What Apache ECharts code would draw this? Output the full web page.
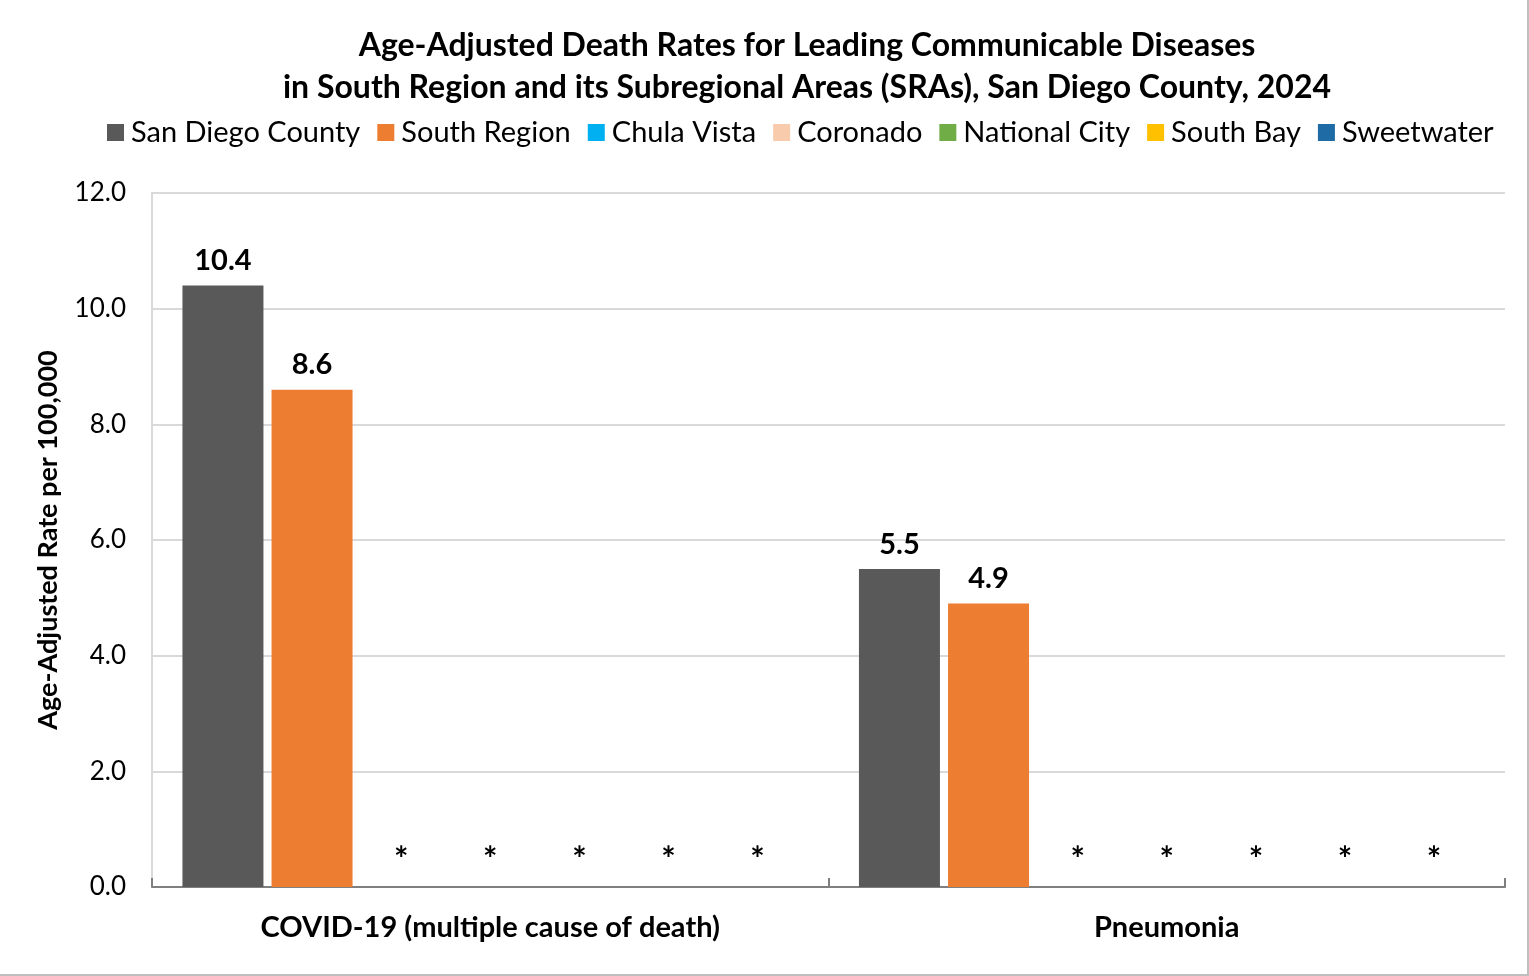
<!DOCTYPE html>
<html>
<head>
<meta charset="utf-8">
<script src="https://cdn.jsdelivr.net/npm/echarts@6/dist/echarts.min.js"></script>
<style>
  html, body { margin: 0; padding: 0; background: #fff; }
  #chart { width: 1529px; height: 976px; box-sizing: border-box; border-right: 2px solid #bfbfbf; border-bottom: 2px solid #bfbfbf; }
</style>
</head>
<body>
<div id="chart"></div>
<script>
// categories on the x axis
const categories = ['COVID-19 (multiple cause of death)', 'Pneumonia']
const yTicks = [0, 2, 4, 6, 8, 10, 12]

// rates per 100,000 (null = suppressed, shown as *)
const sanDiegoCounty = [10.4, 5.5]
const southRegion = [8.6, 4.9]
const chulaVista = [null, null]
const coronado = [null, null]
const nationalCity = [null, null]
const southBay = [null, null]
const sweetwater = [null, null]

const seriesNames = ['San Diego County', 'South Region', 'Chula Vista', 'Coronado', 'National City', 'South Bay', 'Sweetwater']
const seriesData = [sanDiegoCounty, southRegion, chulaVista, coronado, nationalCity, southBay, sweetwater]
const colors = ['#595959', '#ed7d31', '#00b0f0', '#f8cbad', '#70ad47', '#ffc000', '#1f6ba5']

const font = 'Lato, "Open Sans", sans-serif'

let chart = echarts.init(document.getElementById('chart'))

let series = seriesNames.map((name, i) => ({
  name: name,
  type: 'bar',
  barWidth: 81,
  barGap: '10%',
  itemStyle: { color: colors[i] },
  data: seriesData[i].map(v => {
    if (v === null) {
      // suppressed value: draw no bar, only an asterisk
      return {
        value: 0,
        label: { show: true, formatter: '*', distance: 10, fontSize: 34 }
      }
    }
    return v
  }),
  label: {
    show: true,
    position: 'top',
    distance: 10,
    fontFamily: font,
    fontWeight: 'bold',
    fontSize: 29,
    color: '#000',
    formatter: p => p.value.toFixed(1)
  }
}))

chart.setOption({
  backgroundColor: '#fff',
  color: colors,
  textStyle: { fontFamily: font },
  title: {
    text: 'Age-Adjusted Death Rates for Leading Communicable Diseases\nin South Region and its Subregional Areas (SRAs), San Diego County, 2024',
    left: 802,
    textAlign: 'center',
    top: 20,
    textStyle: {
      fontFamily: font,
      fontSize: 32,
      fontWeight: 'bold',
      color: '#000',
      lineHeight: 42
    }
  },
  legend: {
    top: 113,
    left: 102,
    icon: 'rect',
    itemWidth: 17,
    itemHeight: 17,
    itemGap: 17,
    textStyle: { fontFamily: font, fontSize: 29, color: '#000', padding: [0, 0, 0, 2] },
    data: seriesNames
  },
  grid: {
    left: 152,
    right: 22,
    top: 193,
    bottom: 87,
    containLabel: false
  },
  xAxis: {
    type: 'category',
    data: categories,
    axisLine: { lineStyle: { color: '#7f7f7f', width: 2 } },
    axisTick: { show: true, inside: true, length: 9, lineStyle: { color: '#7f7f7f', width: 2 } },
    axisLabel: {
      margin: 26,
      fontFamily: font,
      fontSize: 29,
      fontWeight: 'bold',
      color: '#000'
    }
  },
  yAxis: {
    type: 'value',
    min: yTicks[0],
    max: yTicks[yTicks.length - 1],
    interval: 2,
    name: 'Age-Adjusted Rate per 100,000',
    nameLocation: 'middle',
    nameGap: 90,
    nameTextStyle: { fontFamily: font, fontSize: 27, fontWeight: 'bold', color: '#000' },
    axisLine: { show: true, lineStyle: { color: '#d9d9d9', width: 2 } },
    axisTick: { show: false },
    splitLine: { lineStyle: { color: '#d9d9d9', width: 2 } },
    axisLabel: {
      margin: 26,
      fontFamily: font,
      fontSize: 26,
      color: '#000',
      formatter: v => v.toFixed(1)
    }
  },
  series: series
})
</script>
</body>
</html>
